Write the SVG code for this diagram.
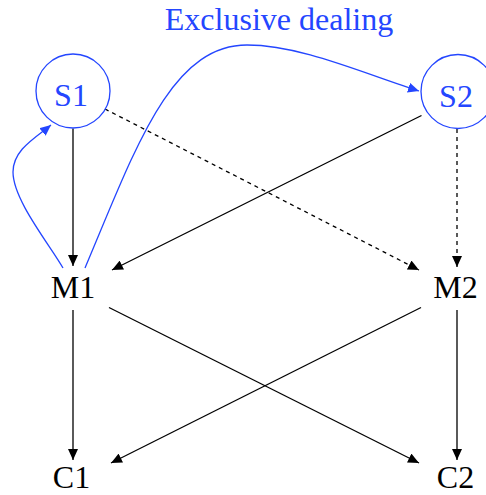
<svg xmlns="http://www.w3.org/2000/svg" width="486" height="495" viewBox="0 0 486 495">
<defs>
<style>
text{font-family:'Liberation Serif','Times New Roman',serif;font-size:32px;text-anchor:middle}
.blk{fill:#000}
.blu{fill:#2446ff}
.ln{fill:none;stroke:#000;stroke-width:1.3}
.dash{stroke-dasharray:4 4}
.bc{fill:none;stroke:#2446ff;stroke-width:1.3}
.node{fill:#fff;stroke:#2446ff;stroke-width:1.3}
</style>
<marker id="ah" viewBox="0 0 11 10" refX="11" refY="5" markerWidth="11" markerHeight="10" markerUnits="userSpaceOnUse" orient="auto">
<path d="M0,0 L11,5 L0,10 z" fill="#000"/>
</marker>
<marker id="ahb" viewBox="0 0 11 10" refX="11" refY="5" markerWidth="11" markerHeight="10" markerUnits="userSpaceOnUse" orient="auto">
<path d="M0,0 L11,5 L0,10 z" fill="#2446ff"/>
</marker>
</defs>
<g id="connectors">
<path class="ln" d="M73,128.5 L73,266" marker-end="url(#ah)"/>
<path class="ln" d="M421.5,115.5 L112,270" marker-end="url(#ah)"/>
<path class="ln dash" d="M105,109 L419,270" marker-end="url(#ah)"/>
<path class="ln dash" d="M457,129 L457,267" marker-end="url(#ah)"/>
<path class="ln" d="M73,310 L73,460" marker-end="url(#ah)"/>
<path class="ln" d="M109,307.5 L419,463" marker-end="url(#ah)"/>
<path class="ln" d="M421,307.5 L111,463" marker-end="url(#ah)"/>
<path class="ln" d="M457,310 L457,460" marker-end="url(#ah)"/>
<path class="bc" d="M63,268 C50,245 13,200 13,172 C13,150 35,138 51,125" marker-end="url(#ahb)"/>
<path class="bc" d="M85,268 C135,150 170,45 247,45 C300,45 360,72 419,91" marker-end="url(#ahb)"/>
</g>
<g id="label-exclusive"><text class="blu" x="279" y="30">Exclusive dealing</text></g>
<g id="S1"><circle class="node" cx="73" cy="91" r="37"/><text class="blu" x="71" y="106">S1</text></g>
<g id="S2"><circle class="node" cx="458" cy="91.5" r="37"/><text class="blu" x="456" y="106.5">S2</text></g>
<g id="M1"><text class="blk" x="73" y="298">M1</text></g>
<g id="M2"><text class="blk" x="455.5" y="298">M2</text></g>
<g id="C1"><text class="blk" x="71.5" y="488">C1</text></g>
<g id="C2"><text class="blk" x="455.5" y="488">C2</text></g>
</svg>
